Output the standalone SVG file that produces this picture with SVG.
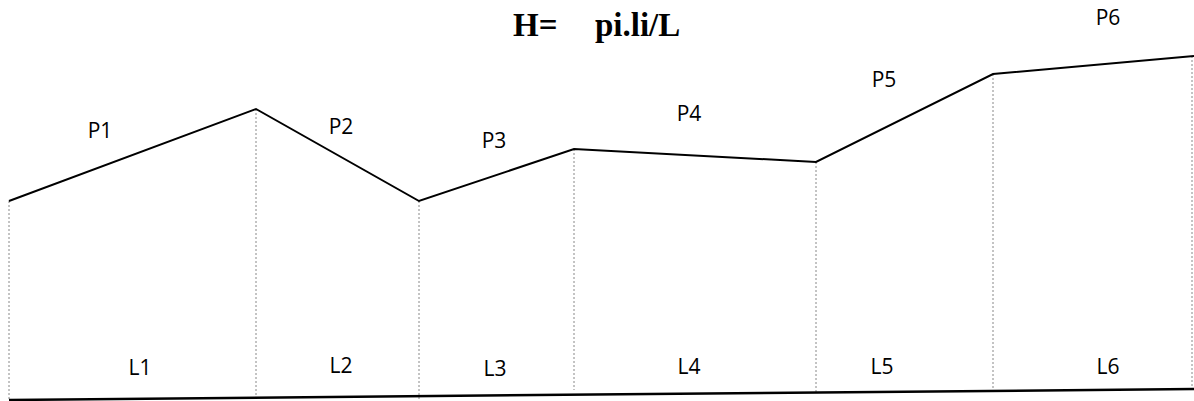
<svg xmlns="http://www.w3.org/2000/svg" width="1194" height="401" viewBox="0 0 1194 401">
<style>
.lbl{font-family:"Open Sans","Liberation Sans",sans-serif;font-size:21px;fill:#000;text-anchor:middle}
.title{font-family:"Liberation Serif",serif;font-size:33px;font-weight:bold;fill:#000}
.prof{fill:none;stroke:#000;stroke-width:2}
.dot{stroke:#888;stroke-width:1;stroke-dasharray:2,2}
.base{stroke:#000;stroke-width:2.5}
</style>
<rect width="1194" height="401" fill="#fff"/>
<text class="title" y="36"><tspan x="513">H=</tspan><tspan x="595">pi.li/L</tspan></text>
<g id="connectors">
<line class="dot" x1="9" y1="201" x2="9" y2="400"/>
<line class="dot" x1="256" y1="109" x2="256" y2="400"/>
<line class="dot" x1="419" y1="201" x2="419" y2="400"/>
<line class="dot" x1="574" y1="149" x2="574" y2="390"/>
<line class="dot" x1="816" y1="162" x2="816" y2="392"/>
<line class="dot" x1="993" y1="74" x2="993" y2="392"/>
<line class="dot" x1="1192" y1="56" x2="1192" y2="390"/>
<polyline class="prof" points="9,201 256,109 419,201 574,149 816,162 993,74 1194,56"/>
<line class="base" x1="9" y1="400" x2="1194" y2="389"/>
</g>
<g id="P1"><text class="lbl" x="100" y="138">P1</text></g>
<g id="P2"><text class="lbl" x="341" y="134">P2</text></g>
<g id="P3"><text class="lbl" x="494" y="148">P3</text></g>
<g id="P4"><text class="lbl" x="689" y="121">P4</text></g>
<g id="P5"><text class="lbl" x="884" y="87">P5</text></g>
<g id="P6"><text class="lbl" x="1108" y="25">P6</text></g>
<g id="L1"><text class="lbl" x="140" y="375">L1</text></g>
<g id="L2"><text class="lbl" x="341" y="373">L2</text></g>
<g id="L3"><text class="lbl" x="495" y="376">L3</text></g>
<g id="L4"><text class="lbl" x="689" y="374">L4</text></g>
<g id="L5"><text class="lbl" x="882" y="374">L5</text></g>
<g id="L6"><text class="lbl" x="1108" y="374">L6</text></g>
</svg>
